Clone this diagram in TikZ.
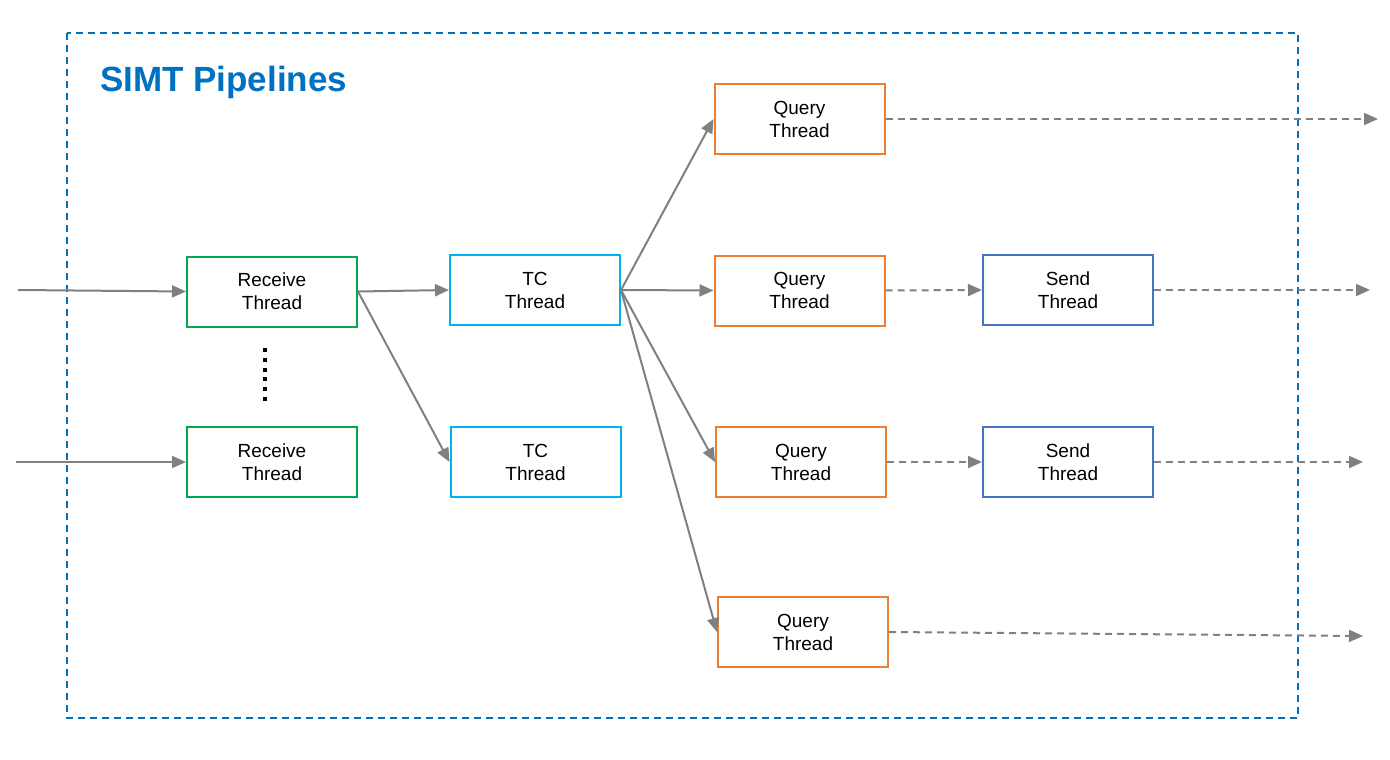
\documentclass[tikz,border=0pt]{standalone}
\usepackage{fontspec}
\setmainfont{Liberation Sans}
\usetikzlibrary{arrows.meta}
\definecolor{recv}{RGB}{0,168,80}
\definecolor{tcc}{RGB}{0,176,240}
\definecolor{qry}{RGB}{237,125,49}
\definecolor{snd}{RGB}{68,114,196}
\definecolor{frame}{RGB}{0,112,192}
\definecolor{arr}{RGB}{128,128,128}
\tikzset{
  box/.style={draw, line width=2pt, minimum width=170pt, minimum height=70pt, inner sep=0pt,
    align=center, font=\fontsize{19}{23}\selectfont},
  rbox/.style={box, draw=recv},
  tbox/.style={box, draw=tcc},
  qbox/.style={box, draw=qry},
  sbox/.style={box, draw=snd},
  conn/.style={draw=arr, line width=2pt, -{Triangle[length=14pt,width=12pt]}},
  dconn/.style={conn, dash pattern=on 7pt off 5pt},
}
\begin{document}
\begin{tikzpicture}[x=1pt,y=-1pt]
\useasboundingbox (0,0) rectangle (1390,760);
\draw[frame, line width=2pt, dash pattern=on 7pt off 5pt] (67,33) rectangle (1298,718);
\node[anchor=base west, text=frame, font=\fontsize{35}{40}\selectfont\bfseries, inner sep=0pt] (title) at (100,92) {SIMT Pipelines};

\node[rbox] (r1) at (272,291.5) {Receive\\Thread};
\node[rbox] (r2) at (272,462) {Receive\\Thread};
\node[tbox] (t1) at (535,290) {TC\\Thread};
\node[tbox] (t2) at (535.5,462) {TC\\Thread};
\node[qbox] (q1) at (799.5,119) {Query\\Thread};
\node[qbox] (q2) at (799.5,290.5) {Query\\Thread};
\node[qbox] (q3) at (801,462) {Query\\Thread};
\node[qbox] (q4) at (803,632) {Query\\Thread};
\node[sbox] (s1) at (1068,290) {Send\\Thread};
\node[sbox] (s2) at (1068,462) {Send\\Thread};

\coordinate (in1) at (18,290);
\coordinate (in2) at (16,462);
\coordinate (o1) at (1378,119);
\coordinate (o2) at (1370,290);
\coordinate (o3) at (1363,462);
\coordinate (o4) at (1363,636);
\coordinate (d1) at (265,348);
\coordinate (d2) at (265,402);

\draw[black, line width=4pt, dash pattern=on 4pt off 5.8pt] (d1) -- (d2);

\draw[conn] (in1) -- (r1.west);
\draw[conn] (in2) -- (r2.west);
\draw[conn] (r1.east) -- (t1.west);
\draw[conn] (r1.east) -- (t2.west);
\draw[conn] (t1.east) -- (q1.west);
\draw[conn] (t1.east) -- (q2.west);
\draw[conn] (t1.east) -- (q3.west);
\draw[conn] (t1.east) -- (q4.west);
\draw[dconn] (q1.east) -- (o1);
\draw[dconn] (q2.east) -- (s1.west);
\draw[dconn] (s1.east) -- (o2);
\draw[dconn] (q3.east) -- (s2.west);
\draw[dconn] (s2.east) -- (o3);
\draw[dconn] (q4.east) -- (o4);
\end{tikzpicture}
\end{document}
